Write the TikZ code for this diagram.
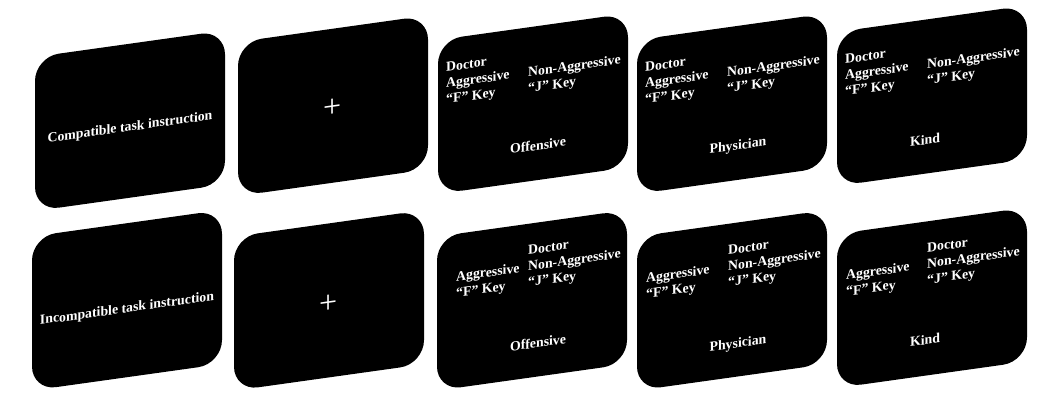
\documentclass[tikz,border=0pt]{standalone}
\usepackage{fontspec}
\setmainfont{Liberation Serif}
\begin{document}
\begin{tikzpicture}[x=1pt,y=1pt,
  card/.style={fill=black, rounded corners=24pt, minimum width=190pt, minimum height=154pt, inner sep=0pt, outer sep=0pt, transform shape},
  lbl/.style={text=white, font=\fontsize{13.8}{16}\selectfont\bfseries, inner sep=0pt, transform shape},
  col/.style={lbl, align=left, anchor=north west},
  crosssign/.style={text=white, font=\fontsize{32}{32}\selectfont, inner sep=0pt, transform shape},
  slantcard/.style={yslant=0.14}]
\useasboundingbox (0,0) rectangle (1061,393);

% ---------------- Row 1 ----------------
\begin{scope}[shift={(35,182)}, slantcard]
  \node[card] (c1) at (95,77) {};
  \node[lbl] (t1) at (95,70) {Compatible task instruction};
\end{scope}
\begin{scope}[shift={(238,197)}, slantcard]
  \node[card] (c2) at (95,77) {};
  \node[crosssign] (x2) at (95,74) {+};
\end{scope}
\begin{scope}[shift={(438,199)}, slantcard]
  \node[card] (c3) at (95,77) {};
  \node[col] (c3l) at (8,130.3) {Doctor\\Aggressive\\“F” Key};
  \node[col] (c3r) at (90,114.5) {Non-Aggressive\\“J” Key};
  \node[lbl, anchor=base] (c3f) at (100,30) {Offensive};
\end{scope}
\begin{scope}[shift={(637,199)}, slantcard]
  \node[card] (c4) at (95,77) {};
  \node[col] (c4l) at (8,130.3) {Doctor\\Aggressive\\“F” Key};
  \node[col] (c4r) at (90,114.5) {Non-Aggressive\\“J” Key};
  \node[lbl, anchor=base] (c4f) at (101,30) {Physician};
\end{scope}
\begin{scope}[shift={(837,207)}, slantcard]
  \node[card] (c5) at (95,77) {};
  \node[col] (c5l) at (8,130.3) {Doctor\\Aggressive\\“F” Key};
  \node[col] (c5r) at (90,114.5) {Non-Aggressive\\“J” Key};
  \node[lbl, anchor=base] (c5f) at (88,29) {Kind};
\end{scope}

% ---------------- Row 2 ----------------
\begin{scope}[shift={(32,2.5)}, slantcard]
  \node[card] (c6) at (95,77) {};
  \node[lbl] (t6) at (95,68) {Incompatible task instruction};
\end{scope}
\begin{scope}[shift={(234,2.3)}, slantcard]
  \node[card] (c7) at (95,77) {};
  \node[crosssign] (x7) at (95,73) {+};
\end{scope}
\begin{scope}[shift={(437,2.4)}, slantcard]
  \node[card] (c8) at (95,77) {};
  \node[col] (c8l) at (19,116.5) {Aggressive\\“F” Key};
  \node[col] (c8r) at (91,132.3) {Doctor\\Non-Aggressive\\“J” Key};
  \node[lbl, anchor=base] (c8f) at (101,29) {Offensive};
\end{scope}
\begin{scope}[shift={(637,2.4)}, slantcard]
  \node[card] (c9) at (95,77) {};
  \node[col] (c9l) at (9,116.5) {Aggressive\\“F” Key};
  \node[col] (c9r) at (91,132.3) {Doctor\\Non-Aggressive\\“J” Key};
  \node[lbl, anchor=base] (c9f) at (101,29) {Physician};
\end{scope}
\begin{scope}[shift={(837,5)}, slantcard]
  \node[card] (c10) at (95,77) {};
  \node[col] (c10l) at (9,116.5) {Aggressive\\“F” Key};
  \node[col] (c10r) at (90,132.3) {Doctor\\Non-Aggressive\\“J” Key};
  \node[lbl, anchor=base] (c10f) at (88,31) {Kind};
\end{scope}
\end{tikzpicture}
\end{document}
